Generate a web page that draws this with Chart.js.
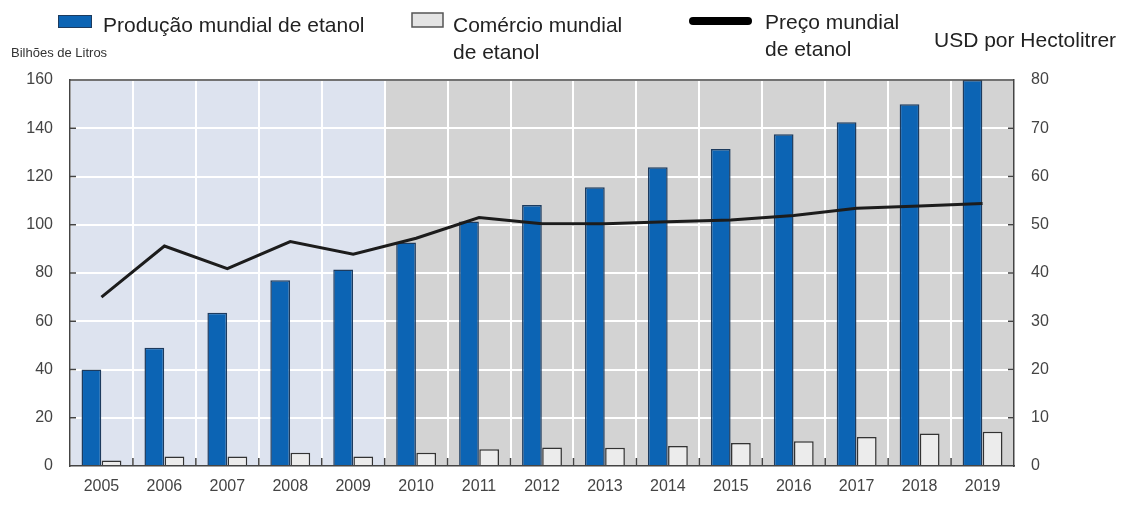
<!DOCTYPE html>
<html>
<head>
<meta charset="utf-8">
<script src="https://cdn.jsdelivr.net/npm/chart.js@4.4.1/dist/chart.umd.min.js"></script>
<style>
    body { margin: 0; background: #fff; }
    #wrap { width: 1125px; height: 505px; position: relative; }
</style>
</head>
<body>
<div id="wrap"><canvas id="etanol"></canvas></div>
<script>
const YEARS = ['2005', '2006', '2007', '2008', '2009', '2010', '2011', '2012',
    '2013', '2014', '2015', '2016', '2017', '2018', '2019'];

// Billions of litres
const producao = [40, 49, 63.5, 77, 81.5, 92.6, 101.3, 108.2, 115.5, 123.8, 131.4, 137.5, 142.5, 149.9, 160];
const comercio = [2.3, 3.9, 3.9, 5.5, 3.9, 5.5, 6.9, 7.7, 7.6, 8.3, 9.5, 10.3, 12, 13.5, 14.2];

// USD per hectolitre
const preco = [35, 45.6, 40.9, 46.5, 43.9, 47.2, 51.5, 50.2, 50.2, 50.6, 51, 51.9, 53.4, 53.9, 54.4];

// first projection year, shaded grey from here on
const FIRST_PROJ = '2010';

const LEFT_TICKS = [0, 20, 40, 60, 80, 100, 120, 140, 160];
const RIGHT_TICKS = [0, 10, 20, 30, 40, 50, 60, 70, 80];

const BLUE = '#0c64b4';
const TICK_FONT = { family: "'Liberation Sans Narrow', 'Liberation Sans', Arial, sans-serif", size: 16 };
const TEXT_FONT = "'Liberation Sans', Arial, sans-serif";

const background = {
    id: 'background',
    beforeDraw(chart) {
        const { ctx, chartArea: a, scales: { x } } = chart;
        const i = YEARS.indexOf(FIRST_PROJ);
        const split = (x.getPixelForValue(i - 1) + x.getPixelForValue(i)) / 2;
        ctx.save();
        ctx.fillStyle = '#dde3ef';
        ctx.fillRect(a.left, a.top, split - a.left, a.bottom - a.top);
        ctx.fillStyle = '#d3d3d3';
        ctx.fillRect(split, a.top, a.right - split, a.bottom - a.top);
        ctx.restore();
    }
};

// small tick marks pointing into the plot, plus the top frame line
const innerTicks = {
    id: 'innerTicks',
    afterDatasetsDraw(chart) {
        const { ctx, chartArea: a, scales: { x, y, y1 } } = chart;
        ctx.save();
        ctx.strokeStyle = '#444';
        ctx.lineWidth = 1.5;
        ctx.beginPath();
        ctx.moveTo(a.left, a.top);
        ctx.lineTo(a.right, a.top);
        LEFT_TICKS.slice(1, -1).forEach(v => {
            const py = y.getPixelForValue(v);
            ctx.moveTo(a.left, py);
            ctx.lineTo(a.left + 6, py);
        });
        RIGHT_TICKS.slice(1, -1).forEach(v => {
            const py = y1.getPixelForValue(v);
            ctx.moveTo(a.right, py);
            ctx.lineTo(a.right - 6, py);
        });
        for (let i = 1; i < YEARS.length; i++) {
            const px = (x.getPixelForValue(i - 1) + x.getPixelForValue(i)) / 2;
            ctx.moveTo(px, a.bottom);
            ctx.lineTo(px, a.bottom - 8);
        }
        ctx.stroke();
        ctx.restore();
    }
};

const legendBox = {
    id: 'legendBox',
    afterDraw(chart) {
        const ctx = chart.ctx;
        const ds = chart.data.datasets;
        ctx.save();
        ctx.fillStyle = '#222';
        ctx.textBaseline = 'alphabetic';
        ctx.font = '21px ' + TEXT_FONT;

        // production
        ctx.fillStyle = ds[0].backgroundColor;
        ctx.fillRect(58, 15, 34, 13);
        ctx.strokeStyle = '#1d3b5e';
        ctx.lineWidth = 1;
        ctx.strokeRect(58.5, 15.5, 33, 12);
        ctx.fillStyle = '#222';
        ctx.fillText(ds[0].label, 103, 32);

        // trade
        ctx.fillStyle = '#e4e4e4';
        ctx.fillRect(412, 13, 31, 14);
        ctx.strokeStyle = '#555';
        ctx.lineWidth = 1.5;
        ctx.strokeRect(412, 13, 31, 14);
        ctx.fillStyle = '#222';
        ds[1].label.split('\n').forEach((t, k) => ctx.fillText(t, 453, 32 + k * 27));

        // price
        ctx.strokeStyle = '#000';
        ctx.lineWidth = 8;
        ctx.lineCap = 'round';
        ctx.beginPath();
        ctx.moveTo(693, 21);
        ctx.lineTo(748, 21);
        ctx.stroke();
        ds[2].label.split('\n').forEach((t, k) => ctx.fillText(t, 765, 29 + k * 27));

        // axis titles
        ctx.fillText('USD por Hectolitrer', 934, 47);
        ctx.font = '13px ' + TEXT_FONT;
        ctx.fillStyle = '#333';
        ctx.fillText('Bilhões de Litros', 11, 57);
        ctx.restore();
    }
};

new Chart(document.getElementById('etanol'), {
    data: {
        labels: YEARS,
        datasets: [
            {
                type: 'bar',
                label: 'Produção mundial de etanol',
                data: producao,
                backgroundColor: BLUE,
                borderColor: '#1d3b5e',
                borderWidth: 1.5,
                categoryPercentage: 0.64,
                barPercentage: 0.98,
                yAxisID: 'y',
                order: 1
            },
            {
                type: 'bar',
                label: 'Comércio mundial\nde etanol',
                data: comercio,
                backgroundColor: '#ececec',
                borderColor: '#333',
                borderWidth: 1.5,
                categoryPercentage: 0.64,
                barPercentage: 0.98,
                yAxisID: 'y',
                order: 1
            },
            {
                type: 'line',
                label: 'Preço mundial\nde etanol',
                data: preco,
                borderColor: '#1c1c1c',
                borderWidth: 3,
                pointRadius: 0,
                tension: 0,
                yAxisID: 'y1',
                order: 0
            }
        ]
    },
    options: {
        responsive: true,
        maintainAspectRatio: false,
        animation: false,
        layout: { padding: { top: 80 } },
        plugins: {
            legend: { display: false },
            tooltip: { enabled: false }
        },
        scales: {
            x: {
                grid: { color: '#fff', lineWidth: 2, drawTicks: false, offset: true },
                border: { color: '#444', width: 1.5 },
                ticks: { color: '#444', font: TICK_FONT, padding: 11, maxRotation: 0 },
                afterFit(scale) { scale.height = 39; }
            },
            y: {
                position: 'left',
                min: 0,
                max: 160,
                grid: { color: '#fff', lineWidth: 2, drawTicks: false },
                border: { color: '#444', width: 1.5 },
                ticks: { stepSize: 20, color: '#444', font: TICK_FONT, padding: 17 },
                afterFit(scale) { scale.width = 70; }
            },
            y1: {
                position: 'right',
                min: 0,
                max: 80,
                grid: { display: false, drawTicks: false },
                border: { color: '#444', width: 1.5 },
                ticks: { stepSize: 10, color: '#444', font: TICK_FONT, padding: 17 },
                afterFit(scale) { scale.width = 111; }
            }
        }
    },
    plugins: [background, innerTicks, legendBox]
});
</script>
</body>
</html>
